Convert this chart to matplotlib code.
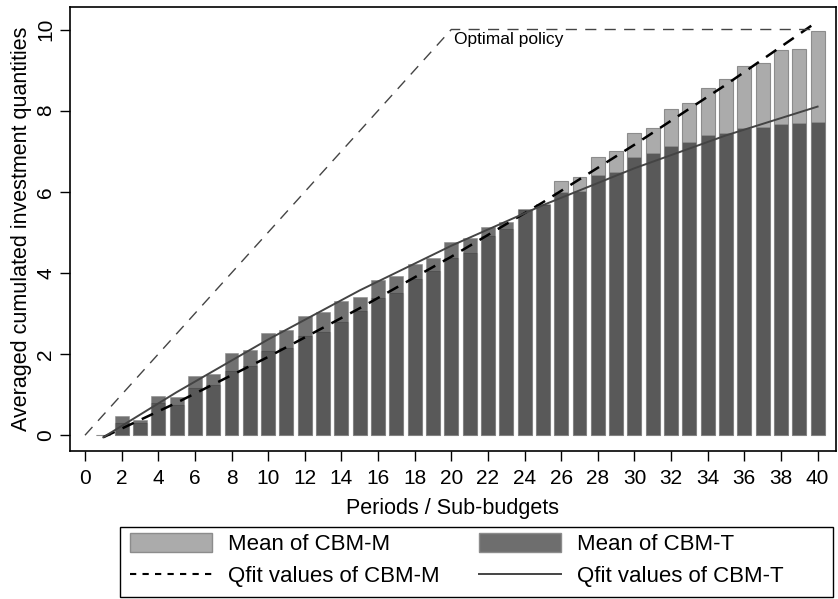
import numpy as np
import matplotlib.pyplot as plt
from matplotlib.patches import Patch, Rectangle
from matplotlib.lines import Line2D

plt.rcParams['font.family'] = ['Liberation Sans', 'DejaVu Sans']

# periods 1..40, period 1 has nothing invested yet
periods = list(range(1, 41))
mean_m = [0.0, 0.30, 0.30, 0.79, 0.75, 1.16, 1.23, 1.59, 1.70, 2.08,
          2.16, 2.44, 2.55, 2.79, 3.05, 3.38, 3.50, 3.84, 4.06, 4.37,
          4.50, 4.92, 5.08, 5.55, 5.68, 6.27, 6.37, 6.86, 7.00, 7.44,
          7.56, 8.03, 8.20, 8.57, 8.77, 9.10, 9.17, 9.50, 9.53, 9.96]
mean_t = [0.0, 0.47, 0.37, 0.96, 0.93, 1.45, 1.50, 2.02, 2.10, 2.53,
          2.59, 2.93, 3.03, 3.32, 3.41, 3.83, 3.92, 4.23, 4.36, 4.77,
          4.86, 5.13, 5.26, 5.57, 5.70, 6.00, 6.03, 6.41, 6.49, 6.86,
          6.96, 7.13, 7.23, 7.41, 7.46, 7.57, 7.60, 7.67, 7.70, 7.73]

# quadratic fit lines
qfit_x = [1, 5, 10, 15, 20, 25, 30, 35, 40]
qfit_m = [-0.05, 0.80, 1.93, 3.13, 4.40, 5.74, 7.16, 8.64, 10.2]
qfit_t = [-0.05, 1.06, 2.36, 3.57, 4.67, 5.67, 6.58, 7.39, 8.10]

# optimal policy: spend evenly over the first 20 periods
opt_x = [0, 20, 40]
opt_y = [0, 10, 10]

fig = plt.figure(figsize=(8.38, 5.99), dpi=100)
ax = fig.add_axes([0.0835, 0.247, 0.914, 0.741])

ax.bar(periods, mean_m, width=0.76, color='#ababab', edgecolor='#8c8c8c', linewidth=0.8, zorder=2)
ax.bar(periods, mean_t, width=0.76, color='#3b3b3b', alpha=0.726, edgecolor='#909090', linewidth=0.6, zorder=3)

ax.plot(qfit_x, qfit_m, color='black', lw=1.8, ls=(0, (5, 3.5)), zorder=4)
ax.plot(qfit_x, qfit_t, color='#444444', lw=1.4, ls='-', zorder=4)
ax.plot(opt_x, opt_y, color='#444444', lw=1.0, ls=(0, (8, 6)), zorder=4)
ax.text(20.15, 9.75, 'Optimal policy', fontsize=12.5, ha='left', va='center')

ax.set_xlim(-0.82, 41.0)
ax.set_ylim(-0.39, 10.55)
ax.set_xticks(range(0, 41, 2))
ax.set_yticks(range(0, 11, 2))
ax.tick_params(axis='both', direction='out', length=7, width=1.0, labelsize=15, colors='black')
ax.tick_params(axis='x', pad=6)
plt.setp(ax.get_yticklabels(), rotation=90, va='center')
for s in ax.spines.values():
    s.set_linewidth(1.2)

ax.set_xlabel('Periods / Sub-budgets', fontsize=15.5, labelpad=7)
ax.set_ylabel('Averaged cumulated investment quantities', fontsize=15.5, labelpad=3)

handles = [
    Patch(facecolor='#ababab', edgecolor='#8c8c8c'),
    Line2D([], [], color='black', lw=1.5, ls=(0, (3, 3))),
    Patch(facecolor='#6e6e6e', edgecolor='#8c8c8c'),
    Line2D([], [], color='#444444', lw=1.4),
]
labels = ['Mean of CBM-M', 'Qfit values of CBM-M', 'Mean of CBM-T', 'Qfit values of CBM-T']
leg = fig.legend(handles, labels, ncol=2, loc='upper left', bbox_to_anchor=(130 / 838, 1 - 533 / 599),
                 fontsize=16, frameon=False, handlelength=3.69, handleheight=0.95,
                 handletextpad=0.72, columnspacing=1.76, borderpad=0, borderaxespad=0,
                 labelspacing=0.44)

# legend box spans most of the figure width, wider than the entries
fig.patches.append(Rectangle((120 / 838, 1 - 597 / 599), (833 - 120) / 838, (597 - 527) / 599,
                             transform=fig.transFigure, fill=False, edgecolor='black', lw=1.0))

plt.savefig('out.png', dpi=100)
